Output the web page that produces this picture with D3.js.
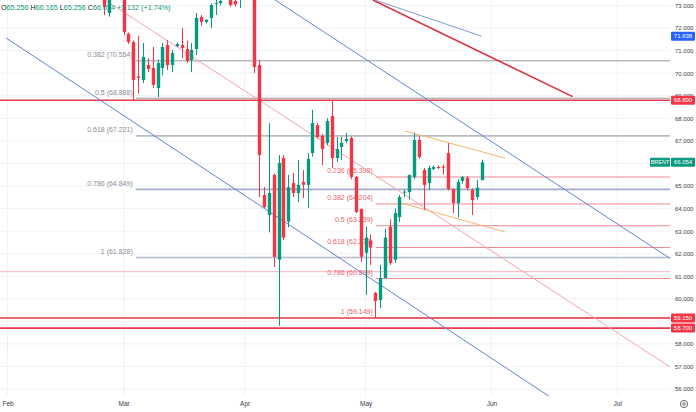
<!DOCTYPE html>
<html><head><meta charset="utf-8">
<script src="https://cdn.jsdelivr.net/npm/d3@7"></script>
<style>
html,body{margin:0;padding:0;background:#fff;}
svg{display:block;font-family:"Liberation Sans",Arial,sans-serif;}
</style></head><body>
<svg id="chart" width="696" height="412"></svg>
<script>
// ---------------- data ----------------
const firstBar = 20; // bar index of the first candle below
const opens  = [73.40,72.67,73.60,73.80,73.45,71.75,71.38,69.85,69.70,70.36,70.23,69.34,70.23,71.25,70.36,71.20,71.25,71.07,70.58,71.07,72.49,72.27,72.45,73.07,73.11,73.30,73.30,73.20,73.30,73.80,74.60,74.90,70.36,64.60,63.71,65.49,61.73,66.24,63.42,65.13,64.69,65.18,65.05,66.46,67.70,67.22,66.91,68.10,66.24,66.73,66.99,67.13,65.40,63.98,62.04,62.58,60.26,59.94,60.92,63.20,61.73,63.62,64.72,64.73,65.40,67.04,65.71,65.13,65.75,65.84,65.86,66.46,64.87,64.24,65.22,65.36,64.82,64.51,65.256];
const highs  = [73.60,73.60,74.20,74.30,73.60,71.80,71.45,71.65,71.34,70.67,71.16,70.60,71.34,71.47,71.03,71.35,72.00,71.45,71.34,72.67,72.58,72.40,73.10,73.30,73.35,73.80,73.50,73.30,74.00,74.80,75.20,75.10,70.58,64.95,67.79,65.55,66.37,66.37,65.49,65.58,66.15,65.71,66.46,68.37,67.80,67.30,68.00,68.81,67.17,67.17,67.35,67.20,65.45,64.00,63.20,62.85,60.30,61.50,63.10,63.52,64.00,64.60,64.82,65.50,67.35,67.20,65.80,65.90,65.90,65.90,65.95,66.90,64.90,65.30,65.45,65.45,64.90,65.27,66.165];
const lows   = [72.58,72.50,73.30,73.40,71.69,71.30,68.81,69.10,69.56,70.05,69.34,68.94,69.90,70.14,70.05,71.15,70.67,70.45,70.05,70.80,72.10,72.20,72.00,72.58,73.00,73.30,72.95,72.95,72.89,73.50,74.30,70.01,64.51,64.02,62.94,61.41,58.80,62.60,63.16,64.51,64.29,64.46,64.02,66.30,67.10,65.93,66.80,65.80,66.06,66.15,66.90,65.30,63.80,61.64,60.17,61.50,59.149,59.59,60.90,61.50,61.60,63.40,64.50,64.40,65.30,66.20,63.93,64.82,65.70,65.75,65.50,64.80,63.80,63.61,65.10,64.80,63.71,64.40,65.256];
const closes = [72.93,73.35,73.90,73.50,71.83,71.38,69.70,69.79,70.72,70.19,69.48,70.45,71.16,70.36,70.89,71.29,71.12,70.54,71.03,72.45,72.27,72.36,73.02,73.11,73.20,73.60,73.02,73.05,73.80,74.60,74.90,70.27,66.37,64.07,64.69,61.86,66.02,62.71,64.95,64.69,65.05,65.05,66.20,67.79,67.17,66.64,67.88,66.24,66.64,66.91,67.08,65.40,63.85,61.86,62.71,62.27,59.90,60.92,62.71,61.59,63.80,64.51,64.75,65.49,67.04,66.28,65.05,65.80,65.84,65.80,65.82,64.87,64.24,65.18,65.40,64.91,64.37,64.922,66.054];

const monthLabels = ["Feb","Mar","Apr","May","Jun","Jul"];
const monthBars   = [0,24,49,74,100,126];
const priceTicks  = [56,57,58,59,60,61,62,63,64,65,66,67,68,69,70,71,72,73];
const priceLabels = [56,57,58,60,61,62,63,64,65,67,68,69,70,71,72,73]; // 59 and 66 sit under the price tags

const fib1Ratios = ["0.382","0.5","0.618","0.786","1"];
const fib1Prices = [70.554,68.888,67.221,64.849,61.828];
const fib1StartBar = 26.5;
const fib2Ratios = ["0.236","0.382","0.5","0.618","0.786","1"];
const fib2Prices = [65.398,64.204,63.239,62.273,60.899,59.149];
const fib2StartBar = 76.1;

const redLevels  = [68.8, 59.15, 58.7];
const softLevels = [61.2];
const trendLineLabel = 71.638;

// trend lines as [bar1, price1, bar2, price2]
const channelUpper = [55.3, 73.244, 136.9, 61.79];
const channelLower = [-0.3, 71.56, 112.1, 55.65];
const pinkTrend    = [20.1, 73.244, 136.9, 56.98];
const redTrend     = [75.5, 73.244, 116.8, 68.96];
const blueShort    = [75.9, 73.244, 98.0, 71.638];
const orangeUpper  = [82.1, 67.44, 102.8, 66.24];
const orangeLower  = [81.3, 64.25, 102.8, 62.96];

const symbolName = "BRENT";

// ---------------- chart ----------------
const W = 696, H = 412, PW = 670, PH = 396;
const UP = "#089981", DOWN = "#f23645";
const svg = d3.select("#chart");
const x = d3.scaleLinear().domain([-1.55, 136.9]).range([0, PW]);
const y = d3.scaleLinear().domain([55.69, 73.244]).range([PH, 0]);

svg.append("defs").append("clipPath").attr("id","clip")
  .append("rect").attr("x",0).attr("y",0).attr("width",PW).attr("height",PH);

// grid
const grid = svg.append("g");
grid.selectAll("line.h").data(priceTicks).join("line")
  .attr("x1",0).attr("x2",PW).attr("y1",d=>y(d)).attr("y2",d=>y(d))
  .attr("stroke","#f0f2f5").attr("stroke-width",1);
grid.selectAll("line.v").data(monthBars).join("line")
  .attr("y1",0).attr("y2",PH).attr("x1",d=>x(d)).attr("x2",d=>x(d))
  .attr("stroke","#f0f2f5").attr("stroke-width",1);

const plot = svg.append("g").attr("clip-path","url(#clip)");

// soft horizontal level
plot.selectAll("line.soft").data(softLevels).join("line")
  .attr("x1",0).attr("x2",PW).attr("y1",d=>y(d)).attr("y2",d=>y(d))
  .attr("stroke","#f5b3b9").attr("stroke-width",1);

// fib 1 (gray)
const fib1Colors = ["#b8bbc4","#b8bbc4","#b8bbc4","#a3abc8","#b4bccf"];
plot.selectAll("line.f1").data(fib1Prices).join("line")
  .attr("x1",x(fib1StartBar)).attr("x2",PW).attr("y1",d=>y(d)).attr("y2",d=>y(d))
  .attr("stroke",(d,i)=>fib1Colors[i]).attr("stroke-width",1.6);
plot.selectAll("text.f1").data(fib1Prices).join("text")
  .attr("x",x(fib1StartBar)-3).attr("y",d=>y(d)-3.5).attr("text-anchor","end")
  .attr("font-size",7).attr("fill","#8a8e99")
  .text((d,i)=>`${fib1Ratios[i]} (${d.toFixed(3)})`);

// fib 2 (red)
plot.selectAll("line.f2").data(fib2Prices).join("line")
  .attr("x1",x(fib2StartBar)).attr("x2",PW).attr("y1",d=>y(d)).attr("y2",d=>y(d))
  .attr("stroke","#f28a94").attr("stroke-width",1);
plot.selectAll("text.f2").data(fib2Prices).join("text")
  .attr("x",x(fib2StartBar)-3).attr("y",d=>y(d)-3.5).attr("text-anchor","end")
  .attr("font-size",7).attr("fill","#f0606c")
  .text((d,i)=>`${fib2Ratios[i]} (${d.toFixed(3)})`);

// red horizontal levels
plot.selectAll("line.red").data(redLevels).join("line")
  .attr("x1",0).attr("x2",PW).attr("y1",d=>y(d)).attr("y2",d=>y(d))
  .attr("stroke","#e8394a").attr("stroke-width",1.6);

// trend lines
const seg = (g, s, color, w) => g.append("line")
  .attr("x1",x(s[0])).attr("y1",y(s[1])).attr("x2",x(s[2])).attr("y2",y(s[3]))
  .attr("stroke",color).attr("stroke-width",w);
seg(plot, channelUpper, "#6283d3", 1);
seg(plot, channelLower, "#6283d3", 1);
seg(plot, pinkTrend, "#f3a3aa", 1);
seg(plot, redTrend, "#dc2f3e", 1.5);
seg(plot, blueShort, "#7d98d8", 1);
seg(plot, orangeUpper, "#f7b56a", 1);
seg(plot, orangeLower, "#f7b56a", 1);

// candles
const candles = opens.map((o,i)=>({b:firstBar+i, o, h:highs[i], l:lows[i], c:closes[i]}));
const bw = 3.4;
const cg = plot.append("g");
cg.selectAll("line.w").data(candles).join("line")
  .attr("x1",d=>Math.round(x(d.b))+0.5).attr("x2",d=>Math.round(x(d.b))+0.5)
  .attr("y1",d=>y(d.h)).attr("y2",d=>y(d.l))
  .attr("stroke",d=>d.c>=d.o?UP:DOWN).attr("stroke-width",1);
cg.selectAll("rect").data(candles).join("rect")
  .attr("x",d=>Math.round(x(d.b))+0.5-bw/2).attr("width",bw)
  .attr("y",d=>y(Math.max(d.o,d.c)))
  .attr("height",d=>Math.max(1, Math.abs(y(d.o)-y(d.c))))
  .attr("fill",d=>d.c>=d.o?UP:DOWN);

// price axis
const ya = svg.append("g").attr("transform",`translate(${PW+1},0)`)
  .call(d3.axisRight(y).tickValues(priceLabels).tickFormat(d3.format(".3f")).tickSize(0).tickPadding(4));
ya.select(".domain").remove();
ya.selectAll("text").attr("font-size",6).attr("fill","#3a3d45").attr("font-family",'"Liberation Sans",Arial,sans-serif');

// time axis
const xa = svg.append("g").attr("transform",`translate(0,${PH})`)
  .call(d3.axisBottom(x).tickValues(monthBars).tickFormat((d,i)=>monthLabels[i]).tickSize(0).tickPadding(5));
xa.select(".domain").remove();
xa.selectAll("text").attr("font-size",6.5).attr("fill","#3a3d45").attr("font-family",'"Liberation Sans",Arial,sans-serif');

// tags
const tags = svg.append("g");
function tag(price, txt, color){
  const yy = y(price);
  tags.append("rect").attr("x",PW+1).attr("y",yy-4.5).attr("width",24).attr("height",9).attr("rx",1).attr("fill",color);
  tags.append("text").attr("x",PW+13).attr("y",yy).attr("dy","0.35em").attr("text-anchor","middle")
    .attr("font-size",6).attr("fill","#fff").text(txt);
}
tag(trendLineLabel, trendLineLabel.toFixed(3), "#2962ff");
redLevels.forEach(p=>tag(p, p.toFixed(3), "#f23645"));
const last = candles[candles.length-1];
tag(last.c, last.c.toFixed(3), UP);
const ly = y(last.c);
tags.append("rect").attr("x",PW-20).attr("y",ly-4.5).attr("width",20).attr("height",9).attr("rx",1).attr("fill",UP);
tags.append("text").attr("x",PW-10).attr("y",ly).attr("dy","0.35em").attr("text-anchor","middle")
  .attr("font-size",5.5).attr("fill","#fff").text(symbolName);

// settings icon
svg.append("circle").attr("cx",684).attr("cy",404).attr("r",3.6).attr("fill","none").attr("stroke","#555").attr("stroke-width",0.9);
svg.append("circle").attr("cx",684).attr("cy",404).attr("r",1.3).attr("fill","none").attr("stroke","#555").attr("stroke-width",0.8);

// legend
const prev = candles[candles.length-2];
const chg = last.c - prev.c, pct = chg/prev.c*100;
const leg = svg.append("text").attr("x",1).attr("y",9.5).attr("font-size",7.2);
[["O",last.o],["H",last.h],["L",last.l],["C",last.c]].forEach(([k,v],i)=>{
  leg.append("tspan").attr("fill","#131722").text((i?" ":"")+k);
  leg.append("tspan").attr("fill",UP).text(v.toFixed(3));
});
leg.append("tspan").attr("fill",UP).text(` ${chg>=0?"+":""}${chg.toFixed(3)} (${pct>=0?"+":""}${pct.toFixed(2)}%)`);
</script>
</body></html>
